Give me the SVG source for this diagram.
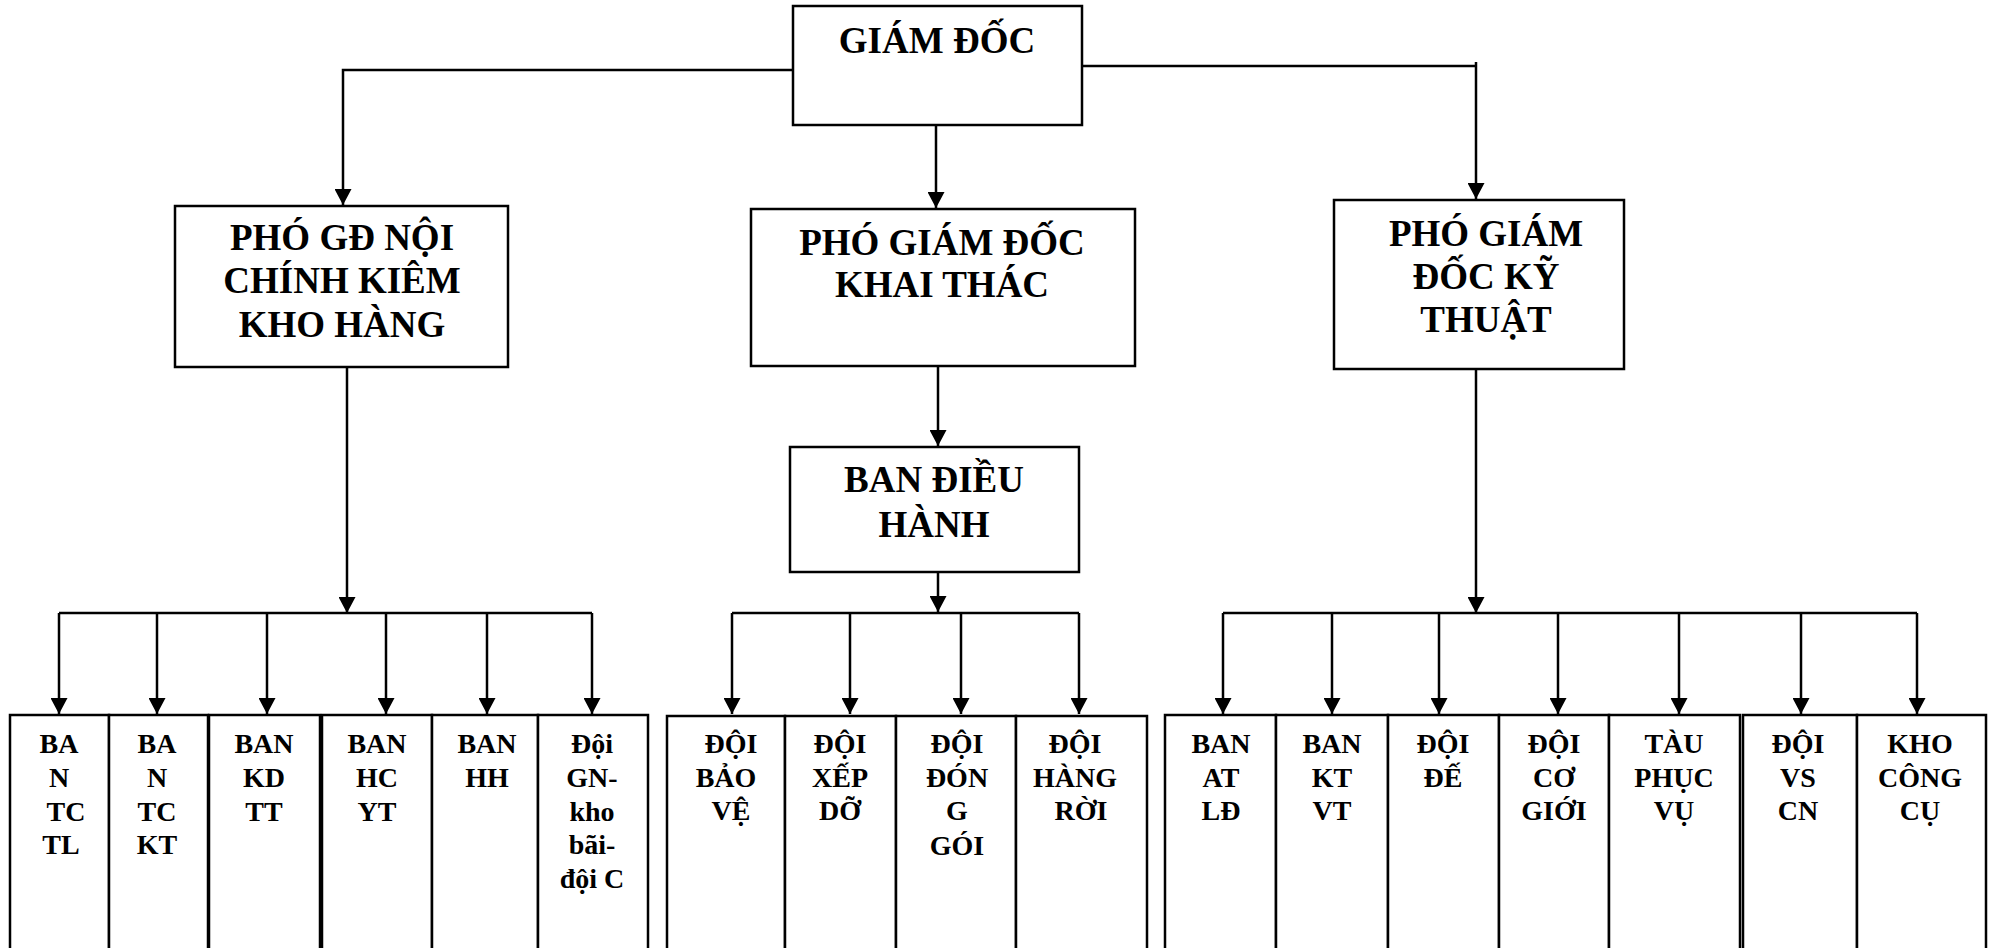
<svg xmlns="http://www.w3.org/2000/svg" width="1989" height="948" viewBox="0 0 1989 948">
<style>
.box{fill:#fff;stroke:#000;stroke-width:2.5}
.ln{fill:none;stroke:#000;stroke-width:2.5}
.t{font-family:"Liberation Serif","Times New Roman",serif;font-weight:bold;fill:#000;text-anchor:middle}
.big{font-size:37px}
.sm{font-size:28px}
</style>
<defs>
<marker id="ah" viewBox="0 0 16 17" refX="16" refY="8.5" markerWidth="16" markerHeight="17" markerUnits="userSpaceOnUse" orient="auto">
<path d="M0,0 L16,8.5 L0,17 Z" fill="#000"/>
</marker>
</defs>
<rect width="1989" height="948" fill="#fff"/>
<g id="connectors">
<polyline class="ln" points="793,70 343,70 343,205" marker-end="url(#ah)"/>
<line class="ln" x1="936" y1="125" x2="936" y2="208" marker-end="url(#ah)"/>
<polyline class="ln" points="1082,66 1476,66"/>
<line class="ln" x1="1476" y1="62" x2="1476" y2="199" marker-end="url(#ah)"/>
<line class="ln" x1="347" y1="367" x2="347" y2="613" marker-end="url(#ah)"/>
<line class="ln" x1="938" y1="366" x2="938" y2="446" marker-end="url(#ah)"/>
<line class="ln" x1="938" y1="572" x2="938" y2="612" marker-end="url(#ah)"/>
<line class="ln" x1="1476" y1="369" x2="1476" y2="613" marker-end="url(#ah)"/>
<line class="ln" x1="59" y1="613" x2="592" y2="613"/>
<line class="ln" x1="59" y1="613" x2="59" y2="714" marker-end="url(#ah)"/>
<line class="ln" x1="157" y1="613" x2="157" y2="714" marker-end="url(#ah)"/>
<line class="ln" x1="267" y1="613" x2="267" y2="714" marker-end="url(#ah)"/>
<line class="ln" x1="386" y1="613" x2="386" y2="714" marker-end="url(#ah)"/>
<line class="ln" x1="487" y1="613" x2="487" y2="714" marker-end="url(#ah)"/>
<line class="ln" x1="592" y1="613" x2="592" y2="714" marker-end="url(#ah)"/>
<line class="ln" x1="732" y1="613" x2="1079" y2="613"/>
<line class="ln" x1="732" y1="613" x2="732" y2="714" marker-end="url(#ah)"/>
<line class="ln" x1="850" y1="613" x2="850" y2="714" marker-end="url(#ah)"/>
<line class="ln" x1="961" y1="613" x2="961" y2="714" marker-end="url(#ah)"/>
<line class="ln" x1="1079" y1="613" x2="1079" y2="714" marker-end="url(#ah)"/>
<line class="ln" x1="1223" y1="613" x2="1917" y2="613"/>
<line class="ln" x1="1223" y1="613" x2="1223" y2="714" marker-end="url(#ah)"/>
<line class="ln" x1="1332" y1="613" x2="1332" y2="714" marker-end="url(#ah)"/>
<line class="ln" x1="1439" y1="613" x2="1439" y2="714" marker-end="url(#ah)"/>
<line class="ln" x1="1558" y1="613" x2="1558" y2="714" marker-end="url(#ah)"/>
<line class="ln" x1="1679" y1="613" x2="1679" y2="714" marker-end="url(#ah)"/>
<line class="ln" x1="1801" y1="613" x2="1801" y2="714" marker-end="url(#ah)"/>
<line class="ln" x1="1917" y1="613" x2="1917" y2="714" marker-end="url(#ah)"/>
</g>
<g id="giam-doc"><rect class="box" x="793" y="6" width="289" height="119"/><text class="t big" x="937" y="53">GIÁM ĐỐC</text></g>
<g id="pgd-noi-chinh"><rect class="box" x="175" y="206" width="333" height="161"/><text class="t big"><tspan x="342" y="250">PHÓ GĐ NỘI</tspan><tspan x="342" y="293">CHÍNH KIÊM</tspan><tspan x="342" y="337">KHO HÀNG</tspan></text></g>
<g id="pgd-khai-thac"><rect class="box" x="751" y="209" width="384" height="157"/><text class="t big"><tspan x="942" y="255">PHÓ GIÁM ĐỐC</tspan><tspan x="942" y="297">KHAI THÁC</tspan></text></g>
<g id="pgd-ky-thuat"><rect class="box" x="1334" y="200" width="290" height="169"/><text class="t big"><tspan x="1486" y="246">PHÓ GIÁM</tspan><tspan x="1486" y="289">ĐỐC KỸ</tspan><tspan x="1486" y="332">THUẬT</tspan></text></g>
<g id="ban-dieu-hanh"><rect class="box" x="790" y="447" width="289" height="125"/><text class="t big"><tspan x="934" y="492">BAN ĐIỀU</tspan><tspan x="934" y="537">HÀNH</tspan></text></g>
<g id="ban-tc-tl"><rect class="box" x="10" y="715" width="99" height="260"/><text class="t sm"><tspan x="59" y="753">BA</tspan><tspan x="59" y="787">N</tspan><tspan x="66" y="821">TC</tspan><tspan x="61" y="854">TL</tspan></text></g>
<g id="ban-tc-kt"><rect class="box" x="109" y="715" width="99" height="260"/><text class="t sm"><tspan x="157" y="753">BA</tspan><tspan x="157" y="787">N</tspan><tspan x="157" y="821">TC</tspan><tspan x="157" y="854">KT</tspan></text></g>
<g id="ban-kd-tt"><rect class="box" x="209" y="715" width="111" height="260"/><text class="t sm"><tspan x="264" y="753">BAN</tspan><tspan x="264" y="787">KD</tspan><tspan x="264" y="821">TT</tspan></text></g>
<g id="ban-hc-yt"><rect class="box" x="322" y="715" width="110" height="260"/><text class="t sm"><tspan x="377" y="753">BAN</tspan><tspan x="377" y="787">HC</tspan><tspan x="377" y="821">YT</tspan></text></g>
<g id="ban-hh"><rect class="box" x="432" y="715" width="106" height="260"/><text class="t sm"><tspan x="487" y="753">BAN</tspan><tspan x="487" y="787">HH</tspan></text></g>
<g id="doi-gn"><rect class="box" x="538" y="715" width="110" height="260"/><text class="t sm"><tspan x="592" y="753">Đội</tspan><tspan x="592" y="787">GN-</tspan><tspan x="592" y="821">kho</tspan><tspan x="592" y="854">bãi-</tspan><tspan x="592" y="888">đội C</tspan></text></g>
<g id="doi-bao-ve"><rect class="box" x="667" y="716" width="118" height="260"/><text class="t sm"><tspan x="731" y="753">ĐỘI</tspan><tspan x="726" y="787">BẢO</tspan><tspan x="731" y="820">VỆ</tspan></text></g>
<g id="doi-xep-do"><rect class="box" x="785" y="716" width="111" height="260"/><text class="t sm"><tspan x="840" y="753">ĐỘI</tspan><tspan x="840" y="787">XẾP</tspan><tspan x="840" y="820">DỠ</tspan></text></g>
<g id="doi-dong-goi"><rect class="box" x="896" y="716" width="120" height="260"/><text class="t sm"><tspan x="957" y="753">ĐỘI</tspan><tspan x="957" y="787">ĐÓN</tspan><tspan x="957" y="820">G</tspan><tspan x="957" y="855">GÓI</tspan></text></g>
<g id="doi-hang-roi"><rect class="box" x="1016" y="716" width="131" height="260"/><text class="t sm"><tspan x="1075" y="753">ĐỘI</tspan><tspan x="1075" y="787">HÀNG</tspan><tspan x="1081" y="820">RỜI</tspan></text></g>
<g id="ban-at-ld"><rect class="box" x="1165" y="715" width="111" height="260"/><text class="t sm"><tspan x="1221" y="753">BAN</tspan><tspan x="1221" y="787">AT</tspan><tspan x="1221" y="820">LĐ</tspan></text></g>
<g id="ban-kt-vt"><rect class="box" x="1276" y="715" width="112" height="260"/><text class="t sm"><tspan x="1332" y="753">BAN</tspan><tspan x="1332" y="787">KT</tspan><tspan x="1332" y="820">VT</tspan></text></g>
<g id="doi-de"><rect class="box" x="1388" y="715" width="111" height="260"/><text class="t sm"><tspan x="1443" y="753">ĐỘI</tspan><tspan x="1443" y="787">ĐẾ</tspan></text></g>
<g id="doi-co-gioi"><rect class="box" x="1499" y="715" width="110" height="260"/><text class="t sm"><tspan x="1554" y="753">ĐỘI</tspan><tspan x="1554" y="787">CƠ</tspan><tspan x="1554" y="820">GIỚI</tspan></text></g>
<g id="tau-phuc-vu"><rect class="box" x="1609" y="715" width="131" height="260"/><text class="t sm"><tspan x="1674" y="753">TÀU</tspan><tspan x="1674" y="787">PHỤC</tspan><tspan x="1674" y="820">VỤ</tspan></text></g>
<g id="doi-vs-cn"><rect class="box" x="1743" y="715" width="114" height="260"/><text class="t sm"><tspan x="1798" y="753">ĐỘI</tspan><tspan x="1798" y="787">VS</tspan><tspan x="1798" y="820">CN</tspan></text></g>
<g id="kho-cong-cu"><rect class="box" x="1857" y="715" width="129" height="260"/><text class="t sm"><tspan x="1920" y="753">KHO</tspan><tspan x="1920" y="787">CÔNG</tspan><tspan x="1920" y="820">CỤ</tspan></text></g>
</svg>
